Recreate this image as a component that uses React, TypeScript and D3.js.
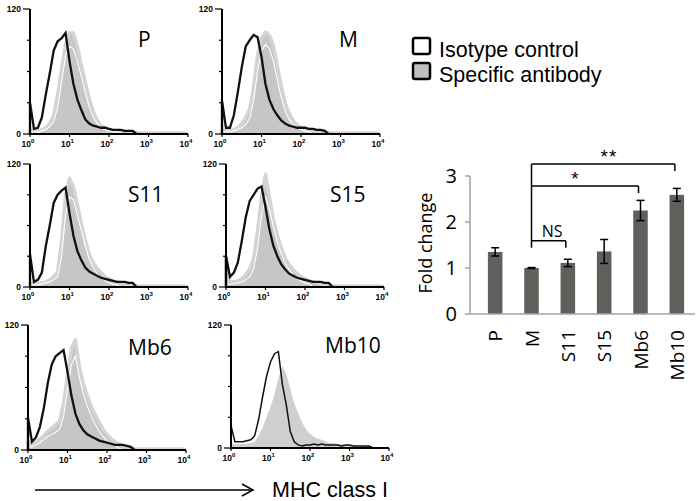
import React from "react";
import * as d3 from "d3";

// ---------- Histogram data (counts per 0.1-decade bin, starting at 10^0) ----------
const BIN = 0.1;
const P_ISO = [30,5,6,16,38,58,80,89,92,97,70,48,33,23,14,10,8,7,6,6,5,4,4,4,3,3,3];
const P_SPEC = [4,3,3,4,6,10,18,38,62,86,97,97,84,66,50,34,22,13,8,6,4,3,3,2,2,2,1,1,1,1,1,1,1,1,1,1,1,1,1,1];
const P_INNER = [2,2,2,3,4,7,12,25,50,75,84,82,70,55,40,26,16,10,6,4,3,2,2,1];

const M_ISO = [32,6,6,18,40,64,84,90,95,93,74,48,33,24,18,13,10,8,7,6,6,6,5,5,4,4,3];
const M_SPEC = [4,3,3,4,6,10,16,24,45,76,92,98,95,85,66,46,30,20,13,9,6,4,3,3,2,2,1,1,1,1,1,1,1,1,1,1,1,1,1,1];
const M_INNER = [2,2,2,3,4,6,9,15,32,60,80,86,82,70,52,35,22,14,9,6,4,3,2];

const S11_ISO = [32,5,7,14,40,60,82,90,94,97,72,50,35,26,19,15,13,11,9,8,7,6,5,5,5,4,4];
const S11_SPEC = [3,3,3,4,5,7,10,15,45,90,106,98,80,62,46,32,24,18,14,10,8,6,5,4,3,2,2,1,1,1,1,1,1,1,1,1,1,1,1,1];
const S11_INNER = [2,2,2,3,4,5,7,10,30,70,88,85,70,55,40,27,19,13,9,6,4,3,2];

const S15_ISO = [30,10,14,24,45,68,84,90,96,98,78,56,40,30,22,17,13,11,9,8,7,6,5,5,5,4,4];
const S15_SPEC = [30,6,5,6,8,12,18,28,55,88,110,88,66,50,38,28,22,17,13,10,8,6,5,4,3,2,2,1,1,1,1,1,1,1,1,1,1,1,1,1];
const S15_INNER = [3,3,3,4,5,7,10,18,38,70,88,76,58,44,32,23,17,12,8,6,4,3];

const MB6_ISO = [31,8,12,22,40,64,82,90,93,96,75,52,35,25,19,15,13,11,9,8,7,6,5,5,5,4,3];
const MB6_SPEC = [8,6,8,10,14,18,21,24,28,45,72,98,106,80,64,52,42,34,27,20,15,11,8,6,4,3,2,1,1,1,1,1,1,1,1,1,1,1,1,1];
const MB6_INNER = [3,3,5,7,10,13,15,17,20,32,58,82,90,70,54,42,33,25,18,13,9,6,4,2];

const MB10_ISO = [22,6,6,6,7,8,12,28,50,70,84,92,94,62,42,16,6,3,2,3,3,4,3,4,3,3,3,3,2,3,3,2,2,2,2,2];
const MB10_SPEC = [4,4,4,4,4,5,6,12,20,30,40,52,68,80,72,58,44,34,25,18,14,11,9,8,6,5,5,4,4,3,3,3,2,2,2,2,1,1,1];
const MB10_INNER: number[] = [];

const DECADES = [0, 1, 2, 3, 4];
const COUNT_TICKS = [0, 30, 60, 90, 120];
const COUNT_LABELS = [0, 120];

// ---------- Bar chart data ----------
const CATEGORIES = ["P", "M", "S11", "S15", "Mb6", "Mb10"];
const FOLD = [1.35, 1.0, 1.11, 1.36, 2.25, 2.59];
const FOLD_ERR = [0.09, 0.01, 0.08, 0.26, 0.22, 0.14];
const FOLD_TICKS = [0, 1, 2, 3];
const SIG_FROM = ["M", "M", "M"];
const SIG_TO = ["S11", "Mb6", "Mb10"];
const SIG_LEVEL = [1.59, 2.78, 3.26];
const SIG_LABEL = ["NS", "*", "**"];

const LEGEND = ["Isotype control", "Specific antibody"];

const PANELS = [
  { name: "P", x0: 30, yTop: 9, yZero: 134, tx: 138, ty: 47, iso: P_ISO, spec: P_SPEC, inner: P_INNER, thin: false },
  { name: "M", x0: 222, yTop: 9, yZero: 134, tx: 339, ty: 47, iso: M_ISO, spec: M_SPEC, inner: M_INNER, thin: false },
  { name: "S11", x0: 30, yTop: 164, yZero: 287, tx: 128, ty: 202, iso: S11_ISO, spec: S11_SPEC, inner: S11_INNER, thin: false },
  { name: "S15", x0: 226, yTop: 164, yZero: 287, tx: 330, ty: 202, iso: S15_ISO, spec: S15_SPEC, inner: S15_INNER, thin: false },
  { name: "Mb6", x0: 28, yTop: 325, yZero: 450, tx: 128, ty: 355, iso: MB6_ISO, spec: MB6_SPEC, inner: MB6_INNER, thin: false },
  { name: "Mb10", x0: 231, yTop: 325, yZero: 448, tx: 325, ty: 353, iso: MB10_ISO, spec: MB10_SPEC, inner: MB10_INNER, thin: true },
];

const PANEL_W = 158;
const TICK_FONT = "'Liberation Sans', Arial, sans-serif";
const CAL_FONT = "'Open Sans', 'Noto Sans', sans-serif";

function toPts(arr: number[]) {
  if (!arr.length) return [];
  const pts = [{ x: 0, v: 0 }];
  arr.forEach((v, i) => pts.push({ x: i * BIN, v }));
  pts.push({ x: arr.length * BIN, v: 0 });
  return pts;
}

function Histogram({ p }: { p: any }) {
  const x = d3.scaleLinear().domain([0, 4]).range([p.x0, p.x0 + PANEL_W]);
  const y = d3.scaleLinear().domain([0, 120]).range([p.yZero, p.yTop]);
  const area = d3
    .area<any>()
    .x((d) => x(d.x))
    .y0(y(0))
    .y1((d) => y(d.v))
    .curve(d3.curveLinear);
  const line = d3
    .line<any>()
    .x((d) => x(d.x))
    .y((d) => y(d.v))
    .curve(d3.curveLinear);
  const spec = toPts(p.spec);
  const inner = toPts(p.inner);
  const iso = toPts(p.iso);
  return (
    <g>
      <path d={area(spec) || ""} fill={p.thin ? "#cfcfcf" : "#c6c6c6"} />
      {!p.thin && <path d={line(spec) || ""} fill="none" stroke="#d4d4d4" strokeWidth={3.4} strokeLinejoin="round" />}
      {inner.length > 0 && <path d={line(inner) || ""} fill="none" stroke="#ffffff" strokeWidth={1.1} />}
      <path
        d={line(iso) || ""}
        fill="none"
        stroke="#111"
        strokeWidth={p.thin ? 1.5 : 2.3}
      />
      {/* axes */}
      <line x1={p.x0} x2={p.x0} y1={p.yTop} y2={p.yZero + 1} stroke="#000" strokeWidth={2} />
      <line x1={p.x0} x2={p.x0 + PANEL_W} y1={p.yZero} y2={p.yZero} stroke="#000" strokeWidth={2} />
      {COUNT_TICKS.map((t) => (
        <line
          key={t}
          x1={p.x0 - (COUNT_LABELS.includes(t) ? 7 : 3)}
          x2={p.x0}
          y1={y(t)}
          y2={y(t)}
          stroke="#000"
          strokeWidth={1.2}
        />
      ))}
      {COUNT_LABELS.map((t) => (
        <text
          key={t}
          x={p.x0 - 9}
          y={y(t)}
          dy="0.35em"
          textAnchor="end"
          fontFamily={TICK_FONT}
          fontWeight="bold"
          fontSize={8.5}
        >
          {t}
        </text>
      ))}
      {DECADES.map((d) => (
        <g key={d}>
          <line x1={x(d)} x2={x(d)} y1={p.yZero} y2={p.yZero + 3} stroke="#000" strokeWidth={1.2} />
          <text
            x={x(d) - 2}
            y={p.yZero + 13}
            textAnchor="middle"
            fontFamily={TICK_FONT}
            fontWeight="bold"
            fontSize={8.5}
          >
            10
            <tspan dy={-4} fontSize={6}>
              {d}
            </tspan>
          </text>
        </g>
      ))}
      <text x={p.tx} y={p.ty} fontFamily={CAL_FONT} fontSize={21} fill="#000">
        {p.name}
      </text>
    </g>
  );
}

function BarChart() {
  const x = d3.scalePoint<string>().domain(CATEGORIES).range([477, 695]).padding(0.5);
  const y = d3.scaleLinear().domain([0, 3]).range([314, 176]);
  const bw = x.step() * 0.4;
  const axisColor = "#a3a3a3";
  const labelFrac: Record<string, number> = { NS: 0.6, "*": 0.41, "**": 0.54 };
  return (
    <g>
      {CATEGORIES.map((c, i) => (
        <rect key={c} x={(x(c) as number) - bw / 2} y={y(FOLD[i])} width={bw} height={y(0) - y(FOLD[i])} fill="#5f5f5b" />
      ))}
      <line x1={470} x2={470} y1={y(3)} y2={y(0)} stroke={axisColor} strokeWidth={1.5} />
      <line x1={470} x2={695} y1={y(0)} y2={y(0)} stroke={axisColor} strokeWidth={1.5} />
      {FOLD_TICKS.map((t) => (
        <g key={t}>
          <line x1={465} x2={470} y1={y(t)} y2={y(t)} stroke={axisColor} strokeWidth={1.5} />
          <text x={457} y={y(t)} dy="0.36em" textAnchor="end" fontFamily={CAL_FONT} fontSize={20}>
            {t}
          </text>
        </g>
      ))}
      {CATEGORIES.map((c, i) => {
        const cx = x(c) as number;
        const lo = y(FOLD[i] - FOLD_ERR[i]);
        const hi = y(FOLD[i] + FOLD_ERR[i]);
        return (
          <g key={c} stroke="#000" strokeWidth={1.5}>
            <line x1={cx} x2={cx} y1={lo} y2={hi} />
            <line x1={cx - 4} x2={cx + 4} y1={lo} y2={lo} />
            <line x1={cx - 4} x2={cx + 4} y1={hi} y2={hi} />
          </g>
        );
      })}
      {CATEGORIES.map((c) => (
        <text
          key={c}
          transform={`translate(${(x(c) as number) + 7},330) rotate(-90)`}
          textAnchor="end"
          fontFamily={CAL_FONT}
          fontSize={19}
        >
          {c}
        </text>
      ))}
      <text
        transform="translate(432,243) rotate(-90)"
        textAnchor="middle"
        fontFamily={CAL_FONT}
        fontSize={18}
      >
        Fold change
      </text>
      {/* significance brackets */}
      <line
        x1={x("M") as number}
        x2={x("M") as number}
        y1={y(d3.max(SIG_LEVEL) as number)}
        y2={y(1.44)}
        stroke="#000"
        strokeWidth={1.5}
      />
      {SIG_LABEL.map((lab, i) => {
        const xa = x(SIG_FROM[i]) as number;
        const xb = (x(SIG_TO[i]) as number) - 2;
        const yl = y(SIG_LEVEL[i]);
        const isNS = lab === "NS";
        return (
          <g key={lab}>
            <line x1={xa} x2={xb} y1={yl} y2={yl} stroke="#000" strokeWidth={1.5} />
            <line x1={xb} x2={xb} y1={yl} y2={yl + 7} stroke="#000" strokeWidth={1.5} />
            <text
              x={xa + (xb - xa) * labelFrac[lab]}
              y={isNS ? yl - 4 : yl - 1}
              textAnchor="middle"
              fontFamily={isNS ? CAL_FONT : TICK_FONT}
              fontSize={isNS ? 16 : 19}
              letterSpacing={isNS ? 0 : 1}
            >
              {lab}
            </text>
          </g>
        );
      })}
    </g>
  );
}

export default function App() {
  return (
    <svg
      width={698}
      height={501}
      style={{ position: "absolute", left: 0, top: 0, background: "#fff" }}
    >
      {PANELS.map((p) => (
        <Histogram key={p.name} p={p} />
      ))}
      {/* legend */}
      {LEGEND.map((l, i) => (
        <g key={l}>
          <rect
            x={413}
            y={38 + i * 25}
            width={17}
            height={16}
            rx={2}
            fill={i === 0 ? "#fff" : "#c0c0c0"}
            stroke="#000"
            strokeWidth={2.5}
          />
          <text x={439} y={57 + i * 25} fontFamily={TICK_FONT} fontSize={21.5}>
            {l}
          </text>
        </g>
      ))}
      {/* bottom arrow */}
      <line x1={35} x2={253} y1={490} y2={490} stroke="#000" strokeWidth={1.5} />
      <polyline points="242,484 253,490 242,496" fill="none" stroke="#000" strokeWidth={1.5} />
      <text x={272} y={497} fontFamily={TICK_FONT} fontSize={21.5}>
        MHC class I
      </text>
      <BarChart />
    </svg>
  );
}
